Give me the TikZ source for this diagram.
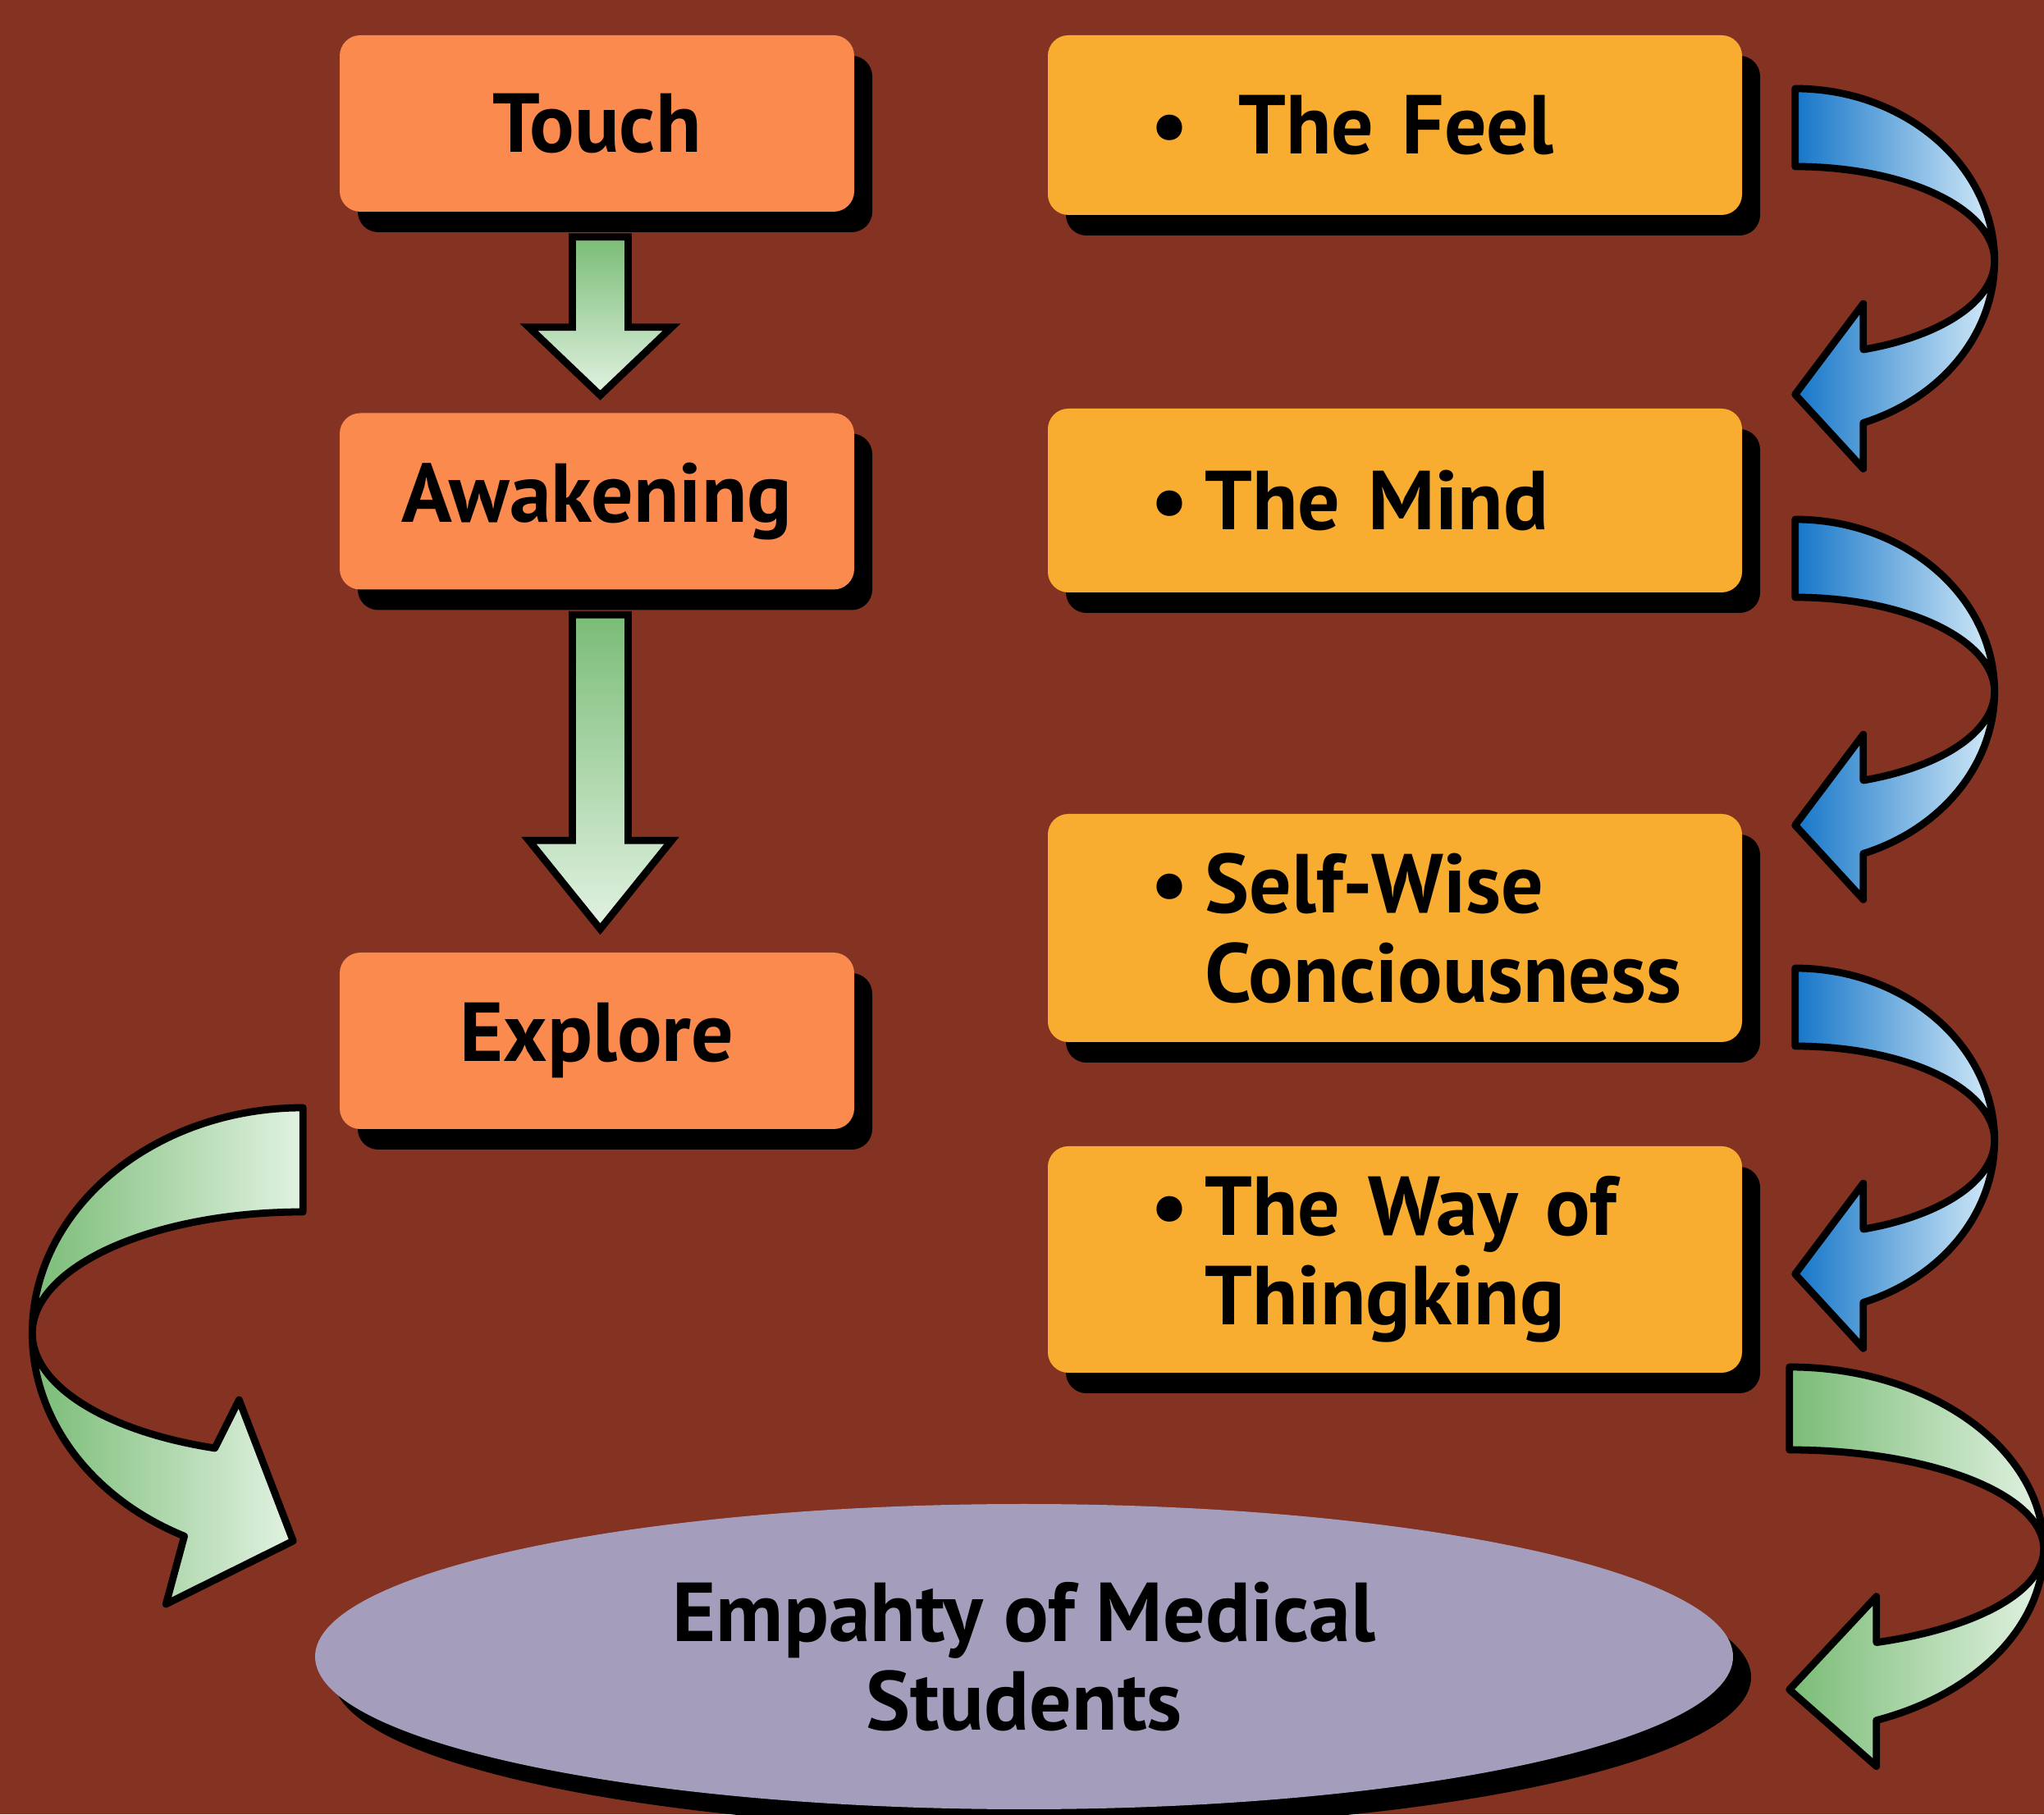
\documentclass[tikz,border=0pt]{standalone}
\usepackage{fontspec}
\setmainfont{PT Sans}
\usepackage{tikz}
\usetikzlibrary{positioning, shapes.geometric, calc, shadows}
\usepackage{xcolor}

\definecolor{bgred}{RGB}{132,50,34}
\definecolor{leftorange}{RGB}{250,138,78}
\definecolor{rightorange}{RGB}{248,172,48}
\definecolor{goalgrey}{RGB}{164,158,188}
\definecolor{greendark}{RGB}{122,188,118}
\definecolor{greenpale}{RGB}{226,242,226}
\definecolor{bluedark}{RGB}{22,118,200}
\definecolor{bluepale}{RGB}{212,234,248}

% straight block arrow from one box down to the next
\newcommand{\blockdown}[4]{%
  \draw[downfill] ($(#1.south)+(-0.30,-0.30)$) -- ($(#1.south)+(0.38,-0.30)$)
    -- ($(#2.north)+(0.38,#3+#4)$) -- ($(#2.north)+(0.91,#3+#4)$)
    -- ($(#2.north)+(0.04,#3)$) -- ($(#2.north)+(-0.83,#3+#4)$)
    -- ($(#2.north)+(-0.30,#3+#4)$) -- cycle;}

% twisted ribbon arrow bending right and back: centre, x radius, outer y radius, inner y radius, style
\newcommand{\ribbonright}[5]{%
  \draw[#5] ($(#1)+(0,#3)$) arc[start angle=90, end angle=0, x radius=#2, y radius=#3]
    arc[start angle=0, end angle=90, x radius=#2, y radius=#4] -- cycle;
  \draw[#5] ($(#1)+(#2,0)$) arc[start angle=0, end angle=-70, x radius=#2, y radius=#3]
    -- ++(0,-0.56) -- ($(#1)+(0,{-0.47*(#3+#4)-0.1})$)
    -- ($(#1)+(-70:#2 and #4)+(0,0.56)$) -- ($(#1)+(-70:#2 and #4)$)
    arc[start angle=-70, end angle=0, x radius=#2, y radius=#4] -- cycle;}

\newcommand{\dotgap}{\textbullet\hspace{0.2em}}

\begin{document}
\begin{tikzpicture}[
    font=\bfseries\fontsize{29}{31}\selectfont,
    cardbox/.style={rounded corners=2.5mm,
        drop shadow={shadow xshift=2.2mm, shadow yshift=-2.5mm, fill=black, opacity=1}},
    leftbox/.style={cardbox, fill=leftorange, minimum width=6.27cm, minimum height=2.15cm},
    rightbox/.style={cardbox, fill=rightorange, minimum width=8.46cm,
        text width=5.96cm, inner xsep=1.25cm, align=left},
    goal/.style={ellipse, fill=goalgrey, minimum width=17.28cm, minimum height=3.72cm, align=center,
        drop shadow={shadow xshift=2.2mm, shadow yshift=-2.5mm, fill=black, opacity=1}},
    downfill/.style={draw=black, line width=2.5pt, line join=miter, top color=greendark, bottom color=greenpale},
    ribbon/.style={draw=black, line width=2.5pt, line join=round},
    blueribbon/.style={ribbon, left color=bluedark, right color=bluepale},
    greenribbon/.style={ribbon, left color=greendark, right color=greenpale}
]
    \useasboundingbox (0,0) rectangle (24.91,22.11);
    \fill[bgred] (0,0) rectangle (24.91,22.11);

    % left column
    \node[leftbox] (touch) at (7.275,20.605) {Touch};
    \node[leftbox] (awake) at (7.275,16.00) {Awakening};
    \node[leftbox] (explore) at (7.275,9.425) {Explore};

    % right column
    \node[rightbox, minimum height=2.19cm] (feel) at (17.00,20.585) {\textbullet\hspace{0.6em}The Feel};
    \node[rightbox, minimum height=2.24cm] (mind) at (17.00,16.01) {\dotgap The Mind};
    \node[rightbox, minimum height=2.78cm] (self) at (17.00,10.80)
        {\mbox{\dotgap Self-Wise}\\\mbox{\hphantom{\dotgap}Conciousness}};
    \node[rightbox, minimum height=2.76cm] (way) at (17.00,6.76)
        {\mbox{\dotgap The Way of}\\\mbox{\hphantom{\dotgap}Thingking}};

    \node[goal] (empathy) at (12.48,1.92) {Empahty of Medical\\Students};

    \blockdown{touch}{awake}{0.21}{0.83}
    \blockdown{awake}{explore}{0.28}{1.08}

    \coordinate (bend1) at ($(feel.east)+(0.64,-1.655)$);
    \coordinate (bend2) at ($(mind.east)+(0.64,-2.33)$);
    \coordinate (bend3) at ($(self.east)+(0.64,-2.59)$);
    \coordinate (bend4) at ($(way.east)+(0.57,-3.53)$);
    \coordinate (bend0) at ($(explore.west)+(-0.44,-3.565)$);

    \ribbonright{bend1}{2.43}{2.10}{1.15}{blueribbon}
    \ribbonright{bend2}{2.43}{2.10}{1.15}{blueribbon}
    \ribbonright{bend3}{2.43}{2.10}{1.15}{blueribbon}
    \ribbonright{bend4}{3.10}{2.22}{1.21}{greenribbon}

    % ribbon from Explore round to the ellipse
    \draw[greenribbon] ($(bend0)+(0,2.75)$) arc[start angle=90, end angle=180, x radius=3.30, y radius=2.75]
        arc[start angle=180, end angle=90, x radius=3.30, y radius=1.48] -- cycle;
    \draw[greenribbon] ($(bend0)+(-3.30,0)$) arc[start angle=180, end angle=244, x radius=3.30, y radius=2.75]
        -- ($(bend0)+(-1.67,-3.30)$) -- ($(bend0)+(-0.12,-2.53)$) -- ($(bend0)+(-0.78,-0.81)$)
        -- ($(bend0)+(251:3.30 and 1.48)$) arc[start angle=251, end angle=180, x radius=3.30, y radius=1.48] -- cycle;
\end{tikzpicture}
\end{document}
